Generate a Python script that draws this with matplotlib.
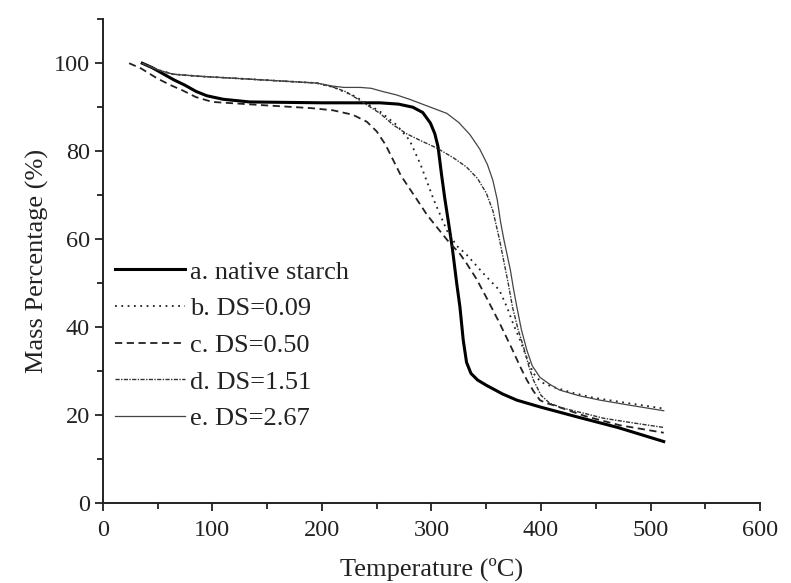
import numpy as np
import matplotlib.pyplot as plt

plt.rcParams['font.family'] = ['Liberation Serif', 'DejaVu Serif']

# a. native starch
t_a = [36, 45, 55, 65, 75, 85, 95, 110, 134, 200, 253, 270, 283, 292, 299, 303, 306, 309, 312, 316,
       319, 323, 326, 329, 332, 336, 342, 350, 365, 378, 400, 433, 470, 512]
m_a = [100, 99, 97.6, 96.2, 95, 93.6, 92.6, 91.8, 91.2, 91, 91, 90.7, 90, 88.8, 86.4, 84, 81, 75, 69.5, 63,
       58, 50, 44.5, 37, 32, 29.5, 28, 26.8, 24.8, 23.4, 21.8, 19.6, 17.2, 14]
# b. DS=0.09
t_b = [36, 50, 64, 90, 119, 160, 195, 210, 230, 253, 268, 280, 290, 302, 314, 323, 332, 347, 362, 369,
       375, 381, 387, 393, 400, 411, 430, 447, 480, 512]
m_b = [100, 98.5, 97.5, 97, 96.6, 96, 95.5, 94.6, 92.5, 89, 86, 82.5, 77, 69, 62, 58.5, 56.5, 52.3, 48.4, 44.5,
       40.5, 37, 33, 29.5, 27.5, 26.4, 25, 24, 22.7, 21.5]
# c. DS=0.50
t_c = [24, 35, 50, 62, 73, 85, 100, 150, 190, 210, 228, 241, 250, 258, 265, 272, 280, 287, 296, 305,
       317, 325, 332, 341, 350, 362, 374, 381, 387, 393, 399, 405, 411, 440, 472, 512]
m_c = [100, 98.8, 96.5, 95, 93.8, 92.3, 91.2, 90.4, 89.8, 89.3, 88.3, 86.7, 84.5, 81.5, 78, 74.5, 71.5, 68.9, 65.5, 62.7,
       59, 57, 54.5, 51, 46.8, 41, 34.8, 31, 28, 25.5, 23.4, 22.7, 22.3, 19.8, 17.7, 16]
# d. DS=1.51
t_d = [36, 50, 64, 90, 119, 160, 195, 210, 222, 235, 253, 265, 277, 291, 305, 320, 332, 342, 350, 356,
       362, 366, 370, 374, 379, 384, 389, 393, 400, 408, 420, 438, 457, 485, 512]
m_d = [100, 98.5, 97.5, 97, 96.6, 96, 95.5, 94.6, 93.5, 91.5, 88.6, 86, 84, 82.3, 80.7, 78.5, 76.4, 73.8, 70.5, 66.5,
       60, 55, 50, 44.5, 39.5, 35.5, 31, 28, 24.5, 22.7, 21.6, 20.5, 19.3, 18.2, 17.2]
# e. DS=2.67
t_e = [36, 50, 64, 90, 119, 160, 195, 210, 220, 235, 245, 255, 268, 280, 297, 314, 325, 335, 344, 351,
       356, 360, 363, 366, 369, 372, 375, 378, 382, 387, 392, 399, 408, 417, 435, 454, 480, 512]
m_e = [100, 98.5, 97.5, 97, 96.6, 96, 95.5, 94.8, 94.5, 94.5, 94.3, 93.6, 92.8, 91.8, 90.2, 88.6, 86.5, 83.8, 80.5, 77,
       73.4, 69, 64, 60, 56.5, 53, 48.5, 44.5, 39.5, 34.8, 31.2, 28.6, 27, 25.7, 24.4, 23.4, 22.3, 21]

labels = ['a. native starch', 'b. DS=0.09', 'c. DS=0.50', 'd. DS=1.51', 'e. DS=2.67']

fig = plt.figure(figsize=(7.91, 5.83), dpi=100)
ax = fig.add_axes([0.130, 0.137, 0.831, 0.830])

ax.plot(t_a, m_a, color='black', lw=2.2, ls='-', label=labels[0])
ax.plot(t_b, m_b, color='#222222', lw=1.3, ls=(0, (1, 2.5)), label=labels[1])
ax.plot(t_c, m_c, color='#222222', lw=1.3, ls=(0, (4, 2.5)), label=labels[2])
ax.plot(t_d, m_d, color='#333333', lw=1.0, ls=(0, (3, 1, 1, 1)), label=labels[3])
ax.plot(t_e, m_e, color='#444444', lw=0.9, ls='-', label=labels[4])

ax.set_xlim(0, 600)
ax.set_ylim(0, 110)
ax.set_xticks(np.arange(0, 601, 100))
ax.set_xticks(np.arange(0, 601, 50), minor=True)
ax.set_yticks(np.arange(0, 101, 20))
ax.set_yticks(np.arange(0, 111, 10), minor=True)
ax.tick_params(which='both', direction='out', width=1.3, labelsize=17.5, colors='#222222')
ax.tick_params(axis='x', which='major', pad=6)
ax.tick_params(which='major', length=6)
ax.tick_params(which='minor', length=4)

for s in ['top', 'right']:
    ax.spines[s].set_visible(False)
for s in ['left', 'bottom']:
    ax.spines[s].set_linewidth(1.4)
    ax.spines[s].set_color('#222222')

ax.set_xlabel('Temperature (ºC)', fontsize=19, labelpad=12, color='#222222')
ax.set_ylabel('Mass Percentage (%)', fontsize=19, labelpad=3, color='#222222')

leg = ax.legend(loc='upper left', bbox_to_anchor=(0.018, 0.502), frameon=False,
                fontsize=19, handlelength=2.65, handletextpad=0.2, labelspacing=0.5,
                borderpad=0, borderaxespad=0)
for t in leg.get_texts():
    t.set_color('#222222')

fig.savefig('out.png', dpi=100)
